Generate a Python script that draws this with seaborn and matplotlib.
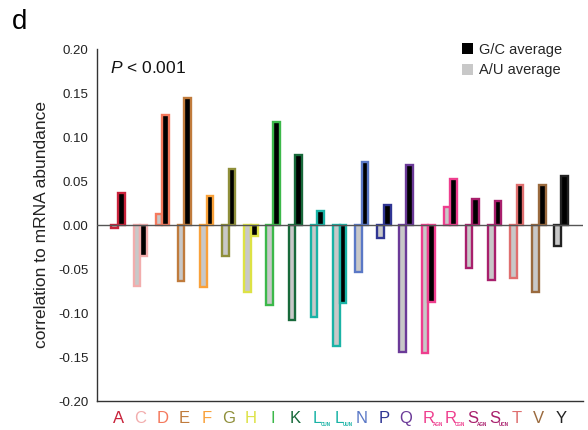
import matplotlib
matplotlib.use("Agg")
import matplotlib.pyplot as plt
import seaborn as sns
import pandas as pd
from matplotlib.patches import Patch
from matplotlib.transforms import ScaledTranslation

categories = ["A", "C", "D", "E", "F", "G", "H", "I", "K", "L_CUN", "L_UUN",
              "N", "P", "Q", "R_AGN", "R_CGN", "S_AGN", "S_UCN", "T", "V", "Y"]
main_letters = ["A", "C", "D", "E", "F", "G", "H", "I", "K", "L", "L",
                "N", "P", "Q", "R", "R", "S", "S", "T", "V", "Y"]
subscripts = ["", "", "", "", "", "", "", "", "", "CUN", "UUN",
              "", "", "", "AGN", "CGN", "AGN", "UCN", "", "", ""]
au_values = [-0.003, -0.069, 0.0125, -0.064, -0.071, -0.035, -0.076, -0.091, -0.108, -0.105, -0.137,
             -0.053, -0.015, -0.144, -0.145, 0.021, -0.049, -0.062, -0.060, -0.076, -0.024]
gc_values = [0.036, -0.035, 0.125, 0.144, 0.033, 0.064, -0.013, 0.117, 0.079, 0.016, -0.089,
             0.0715, 0.023, 0.068, -0.088, 0.052, 0.030, 0.027, 0.046, 0.045, 0.056]
colors = ["#c8223a", "#f2adad", "#f4795d", "#c07b3c", "#f9a13a", "#8f8f3a", "#dde245",
          "#3cb84a", "#17693a", "#1ab3a6", "#1ab3a6", "#5a78c6", "#2f3593", "#6b3a98",
          "#ee3e8e", "#ee3e8e", "#a81f6c", "#a81f6c", "#df6f6f", "#9a6a3e", "#222222"]
y_ticks = [-0.20, -0.15, -0.10, -0.05, 0.00, 0.05, 0.10, 0.15, 0.20]

df = pd.DataFrame({
    "category": categories * 2,
    "type": ["A/U average"] * len(categories) + ["G/C average"] * len(categories),
    "value": au_values + gc_values,
})

sns.set_style("white")
plt.rcParams["font.family"] = ["Liberation Sans", "DejaVu Sans"]
plt.rcParams["mathtext.fontset"] = "custom"
plt.rcParams["mathtext.rm"] = "Liberation Sans"
plt.rcParams["mathtext.it"] = "Liberation Sans:italic"

fig = plt.figure(figsize=(5.88, 4.30), dpi=100)
ax = fig.add_axes([97 / 588, 29 / 430, 486 / 588, 352 / 430])

sns.barplot(data=df, x="category", y="value", hue="type", order=categories,
            hue_order=["A/U average", "G/C average"],
            palette={"A/U average": "#c8c8c8", "G/C average": "black"},
            saturation=1, width=0.6, ax=ax, legend=False, errorbar=None)

for cont in ax.containers:
    for bar, col in zip(cont, colors):
        bar.set_edgecolor(col)
        bar.set_linewidth(1.7)

ax.axhline(0, color="#555555", lw=1.0, zorder=5)

ax.set_ylim(-0.2, 0.2)
ax.set_xlim(-0.95, 20.99)
ax.set_yticks(y_ticks)
ax.set_yticklabels([f"{v:.2f}" for v in y_ticks], fontsize=9.5, color="#222222")
ax.set_xticks(range(len(categories)))
ax.set_xticklabels(main_letters, fontsize=12)
for lab, col, sub in zip(ax.get_xticklabels(), colors, subscripts):
    lab.set_color(col)
    if sub:
        lab.set_transform(lab.get_transform() + ScaledTranslation(-1.1 / 72, 0, fig.dpi_scale_trans))
ax.set_xlabel("")
ax.set_ylabel("correlation to mRNA abundance", fontsize=12.5, color="#222222", labelpad=7)

for s in ["top", "right"]:
    ax.spines[s].set_visible(False)
for s in ["left", "bottom"]:
    ax.spines[s].set_color("#333333")
    ax.spines[s].set_linewidth(1.0)
ax.tick_params(axis="both", direction="out", length=4, width=1, color="#333333")
ax.tick_params(axis="x", pad=3)
ax.tick_params(axis="y", pad=2)

trans = ax.get_xaxis_transform()
sub_offsets = {"L": 0.16, "R": 0.22, "S": 0.20}
for i, (m, sub, col) in enumerate(zip(main_letters, subscripts, colors)):
    if sub:
        ax.text(i + sub_offsets[m], -0.070, sub, transform=trans, fontsize=3.3, color=col,
                ha="left", va="baseline", fontweight="bold")

handles = [Patch(facecolor="black", edgecolor="none", label="G/C average"),
           Patch(facecolor="#c8c8c8", edgecolor="none", label="A/U average")]
ax.legend(handles=handles, loc="upper right", bbox_to_anchor=(0.985, 1.055), frameon=False,
          fontsize=10.5, handlelength=0.75, handleheight=0.75, handletextpad=0.45,
          labelspacing=0.45)

fig.text(110 / 588, 1 - 68 / 430, r"$\it{P}$ < 0.001", fontsize=12.5, va="center", ha="left",
         color="#111111")
fig.text(12 / 588, 1 - 22 / 430, "d", fontsize=20, va="center", ha="left", color="black")

fig.savefig("out.png", dpi=100)
